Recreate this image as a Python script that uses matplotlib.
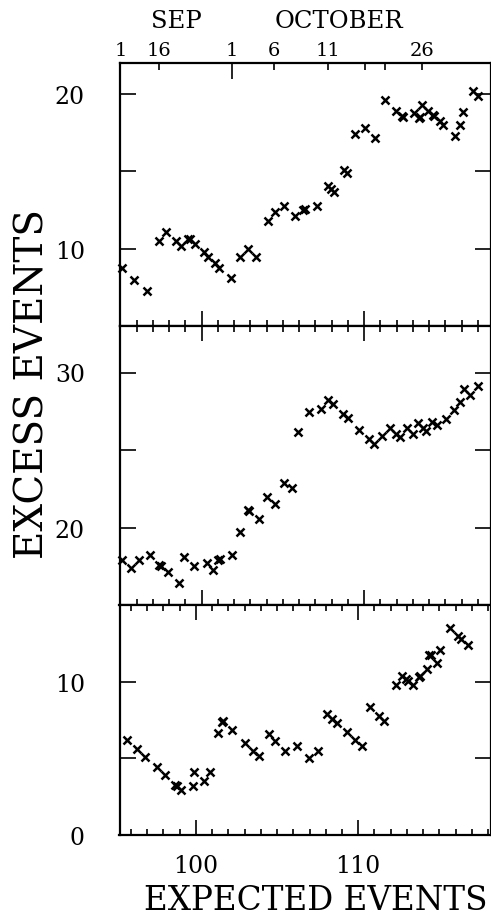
import matplotlib
matplotlib.use('Agg')
import matplotlib.pyplot as plt
from matplotlib.ticker import MultipleLocator

#------------------------------------------------------------------------------
# Excess events vs expected events, three selections
top_x = [95.08, 95.85, 96.62, 97.37, 97.79, 98.40, 98.71, 99.18, 99.30, 99.59,
         100.12, 100.41, 100.80, 101.08, 101.78, 102.37, 102.87, 103.34, 104.10,
         104.49, 105.06, 105.76, 106.25, 106.37, 107.07, 107.75, 107.95, 108.16,
         108.77, 108.94, 109.45, 110.04, 110.66, 111.25, 111.95, 112.30, 112.40,
         113.04, 113.38, 113.44, 113.55, 113.94, 114.21, 114.27, 114.66, 114.86,
         115.58, 115.87, 116.09, 116.69, 117.00]
top_y = [8.75, 7.98, 7.28, 10.47, 11.08, 10.47, 10.19, 10.63, 10.65, 10.30,
         9.76, 9.44, 9.08, 8.75, 8.08, 9.48, 9.98, 9.46, 11.77,
         12.37, 12.78, 12.09, 12.48, 12.57, 12.78, 14.07, 13.86, 13.68,
         15.11, 14.89, 17.39, 17.80, 17.18, 19.59, 18.88, 18.55, 18.49,
         18.77, 18.42, 18.50, 19.31, 18.88, 18.66, 18.60, 18.23, 18.02,
         17.29, 17.97, 18.81, 20.19, 19.89]

mid_x = [95.12, 95.63, 96.14, 96.80, 97.39, 97.50, 97.91, 98.62, 98.91, 99.53,
         100.31, 100.71, 101.02, 101.13, 101.85, 102.36, 102.83, 102.91, 103.52,
         104.00, 104.51, 105.08, 105.54, 105.90, 106.58, 107.34, 107.79, 108.09,
         108.67, 108.98, 109.66, 110.31, 110.58, 111.09, 111.60, 111.95, 112.20,
         112.63, 113.01, 113.32, 113.59, 113.79, 114.16, 114.45, 115.02, 115.54,
         115.90, 116.15, 116.50, 116.97]
mid_y = [17.92, 17.38, 17.92, 18.21, 17.56, 17.49, 17.12, 16.41, 18.10, 17.49,
         17.73, 17.27, 17.92, 17.99, 18.21, 19.72, 21.13, 21.08, 20.52,
         21.99, 21.52, 22.90, 22.53, 26.15, 27.45, 27.62, 28.21, 27.95,
         27.34, 27.04, 26.32, 25.71, 25.39, 25.93, 26.43, 26.04, 25.84,
         26.43, 26.06, 26.71, 26.43, 26.21, 26.82, 26.60, 27.01, 27.56,
         28.12, 28.92, 28.55, 29.14]

bot_x = [95.77, 96.38, 96.88, 97.58, 98.09, 98.71, 98.81, 99.08, 99.80, 99.88,
         100.51, 100.86, 101.37, 101.60, 101.68, 102.20, 103.02, 103.49, 103.90,
         104.52, 104.89, 105.48, 106.20, 106.98, 107.50, 108.07, 108.38, 108.69,
         109.30, 109.82, 110.23, 110.72, 111.29, 111.60, 112.32, 112.69, 112.94,
         113.04, 113.35, 113.72, 113.80, 114.23, 114.37, 114.47, 114.83, 115.03,
         115.65, 116.12, 116.33, 116.74]
bot_y = [6.20, 5.59, 5.11, 4.41, 3.90, 3.27, 3.20, 2.92, 3.20, 4.12,
         3.51, 4.12, 6.64, 7.35, 7.43, 6.86, 6.01, 5.50, 5.13,
         6.56, 6.12, 5.50, 5.83, 5.00, 5.50, 7.92, 7.59, 7.32,
         6.71, 6.20, 5.79, 8.36, 7.74, 7.41, 9.76, 10.37, 10.15,
         10.07, 9.76, 10.33, 10.39, 10.84, 11.71, 11.74, 11.25, 12.08,
         13.51, 13.00, 12.78, 12.37]

# calendar ticks along the top (in expected-event units)
month_ticks = [95.0, 101.85]
month_labels = ['1', '1']
day_ticks = [97.40, 104.45, 107.75, 110.05, 111.27, 113.55]
day_labels = ['16', '6', '11', '', '', '26']

top_yticks, top_ylabels = [10, 15, 20], ['10', '', '20']
mid_yticks, mid_ylabels = [20, 25, 30], ['20', '', '30']
bot_yticks, bot_ylabels = [0, 5, 10], ['0', '', '10']

#------------------------------------------------------------------------------
plt.rcParams['font.family'] = 'DejaVu Serif'

fig = plt.figure(figsize=(4.91, 9.20), dpi=100)

L, W = 119.5 / 491, 1 - 119.5 / 491
ax1 = fig.add_axes([L, 593 / 920, W, 263 / 920])
ax2 = fig.add_axes([L, 314 / 920, W, 279 / 920])
ax3 = fig.add_axes([L, 84 / 920, W, 230 / 920])


def setup_panel(ax, xlim, ylim, yticks, ylabels):
    ax.set_xlim(xlim)
    ax.set_ylim(ylim)
    ax.xaxis.set_major_locator(MultipleLocator(10))
    ax.xaxis.set_minor_locator(MultipleLocator(1))
    ax.set_yticks(yticks, labels=ylabels)
    ax.tick_params(axis='both', which='both', direction='in', top=True,
                   right=True, width=1.2, labelsize=17)
    ax.tick_params(axis='x', which='major', length=11)
    ax.tick_params(axis='x', which='minor', length=4.3)
    ax.tick_params(axis='y', which='major', length=11.3, pad=25)
    ax.tick_params(axis='x', labelbottom=False)
    for s in ax.spines.values():
        s.set_linewidth(1.6)


def draw_points(ax, x, y):
    ax.plot(x, y, 'x', color='black', ms=5.5, mew=1.8, clip_on=False)


setup_panel(ax1, (94.95, 117.8), (5, 22), top_yticks, top_ylabels)
setup_panel(ax2, (94.95, 117.8), (15, 33), mid_yticks, mid_ylabels)
setup_panel(ax3, (95.29, 118.18), (0, 15), bot_yticks, bot_ylabels)

draw_points(ax1, top_x, top_y)
draw_points(ax2, mid_x, mid_y)
draw_points(ax3, bot_x, bot_y)

# bottom axis labels
ax3.tick_params(axis='x', labelbottom=True, pad=14)

# calendar scale on top of the upper panel
ax1.tick_params(axis='x', which='both', top=False)
axd = ax1.twiny()
axd.set_xlim(ax1.get_xlim())
axd.set_xticks(month_ticks, labels=month_labels)
axd.set_xticks(day_ticks, labels=day_labels, minor=True)
axd.tick_params(axis='x', which='both', direction='in', top=True,
                bottom=False, labeltop=True, labelbottom=False,
                width=1.2, labelsize=14, pad=3)
axd.tick_params(axis='x', which='major', length=11.5)
axd.tick_params(axis='x', which='minor', length=5)
for s in axd.spines.values():
    s.set_visible(False)

fig.text(176 / 491, 1 - 28 / 920, 'SEP', ha='center', va='baseline', fontsize=17.5)
fig.text(339 / 491, 1 - 28 / 920, 'OCTOBER', ha='center', va='baseline', fontsize=17.5)

fig.text(315.5 / 491, 1 - 910 / 920, 'EXPECTED EVENTS', ha='center',
         va='baseline', fontsize=23.5)
fig.text(33 / 491, 1 - 384 / 920, 'EXCESS EVENTS', ha='center', va='center',
         rotation=90, fontsize=28)

fig.savefig('out.png', dpi=100)
